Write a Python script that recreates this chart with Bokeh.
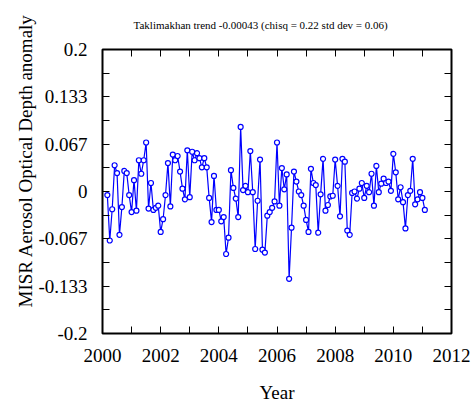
from bokeh.embed import file_html
from bokeh.models import (CustomLabelingPolicy, FixedTicker, Label, LinearAxis,
                          Range1d, Title)
from bokeh.plotting import figure
from bokeh.resources import INLINE

# Monthly MISR aerosol optical depth anomaly over the Taklimakhan, starting March 2000
first_year = 2000
first_month = 3
anomaly = [
    -0.005, -0.069, -0.025, 0.037, 0.026, -0.061, -0.022, 0.029, 0.026, -0.005,
    -0.029, 0.016, -0.027, 0.044, 0.025, 0.044, 0.069, -0.024, 0.012, -0.026,
    -0.023, -0.020, -0.057, -0.039, -0.005, 0.040, -0.021, 0.052, 0.044, 0.050,
    0.028, 0.004, -0.011, 0.058, -0.008, 0.056, 0.044, 0.054, 0.047, 0.034,
    0.047, 0.034, -0.009, -0.043, 0.022, -0.026, -0.026, -0.042, -0.036, -0.088,
    -0.065, 0.030, 0.005, -0.010, -0.036, 0.091, 0.002, 0.008, -0.001, 0.057,
    -0.001, -0.081, -0.013, 0.045, -0.082, -0.086, -0.034, -0.029, -0.023, -0.014,
    0.069, -0.020, 0.033, 0.003, 0.024, -0.123, -0.051, 0.028, 0.014, 0.000,
    -0.005, -0.020, -0.040, -0.057, 0.032, 0.012, 0.009, -0.058, -0.004, 0.046,
    -0.027, -0.019, -0.007, -0.006, 0.045, 0.008, -0.035, 0.046, 0.042, -0.055,
    -0.061, -0.002, 0.000, -0.010, 0.004, 0.012, -0.009, 0.008, -0.001, 0.025,
    -0.020, 0.036, -0.001, 0.011, 0.018, 0.012, 0.014, 0.001, 0.053, 0.027,
    -0.011, 0.006, -0.015, -0.052, -0.005, 0.001, 0.046, -0.018, -0.011, -0.001,
    -0.009, -0.026,
]
# decimal year of each monthly sample
years = [first_year + (first_month - 1 + i) / 12.0 for i in range(len(anomaly))]

x_major = [2000, 2002, 2004, 2006, 2008, 2010, 2012]
x_minor = [2001, 2003, 2005, 2007, 2009, 2011]
y_major = [-0.2, -0.4 / 3, -0.2 / 3, 0.0, 0.2 / 3, 0.4 / 3, 0.2]
y_major_labels = ["-0.2", "-0.133", "-0.067", "0", "0.067", "0.133", "0.2"]
y_minor = [-0.5 / 3, -0.1, -0.1 / 3, 0.1 / 3, 0.1, 0.5 / 3]

title_text = "Taklimakhan trend -0.00043 (chisq = 0.22 std dev = 0.06)"
y_title = "MISR Aerosol Optical Depth anomaly"
x_title = "Year"

SERIF = "Liberation Serif"

p = figure(
    width=471, height=405,
    x_range=Range1d(2000, 2012), y_range=Range1d(-0.2, 0.2),
    output_backend="svg", toolbar_location=None,
    min_border_left=102, min_border_right=20,
    min_border_top=49, min_border_bottom=71,
)
p.xgrid.visible = False
p.ygrid.visible = False
p.background_fill_color = "white"
p.border_fill_color = "white"
p.outline_line_color = "black"
p.outline_line_width = 2

x_ticker = FixedTicker(ticks=x_major, minor_ticks=x_minor)
y_ticker = FixedTicker(ticks=y_major, minor_ticks=y_minor)

# mirrored axes carry tick marks only
no_labels = CustomLabelingPolicy(code="""
    const ids = Array.from(indices)
    for (const i of ids) indices.unset(i)
    return indices
""")


def style_axis(ax, show_labels):
    ax.axis_line_color = None
    ax.major_tick_in = 7
    ax.major_tick_out = 0
    ax.minor_tick_in = 7
    ax.minor_tick_out = 0
    ax.major_tick_line_color = "black"
    ax.minor_tick_line_color = "black"
    ax.major_tick_line_width = 1
    ax.minor_tick_line_width = 1
    ax.major_label_text_font = SERIF
    ax.major_label_text_color = "black"
    if show_labels:
        ax.major_label_text_font_size = "19px"
    else:
        ax.major_label_text_font_size = "1px"
        ax.major_label_policy = no_labels
        ax.major_label_standoff = 0


xa = p.xaxis[0]
xa.ticker = x_ticker
style_axis(xa, True)
xa.major_label_standoff = 15
xa.axis_label = x_title
xa.axis_label_text_font = SERIF
xa.axis_label_text_font_size = "19px"
xa.axis_label_text_font_style = "normal"
xa.axis_label_text_color = "black"
xa.axis_label_standoff = 17

ya = p.yaxis[0]
ya.ticker = y_ticker
style_axis(ya, True)
ya.major_label_standoff = 15
ya.major_label_overrides = dict(zip(y_major, y_major_labels))

right_axis = LinearAxis(ticker=y_ticker)
style_axis(right_axis, False)
p.add_layout(right_axis, "right")

top_axis = LinearAxis(ticker=x_ticker)
style_axis(top_axis, False)
p.add_layout(top_axis, "above")

# the series: thin blue line with open circles
p.line(years, anomaly, line_color="#0000ff", line_width=1.2)
p.scatter(years, anomaly, marker="circle", size=5, line_color="#0000ff",
          line_width=1.2, fill_color="white")

# chart title, set small above the frame
p.add_layout(Title(
    text=title_text, align="left", offset=31, standoff=29,
    text_font=SERIF, text_font_size="11px", text_font_style="normal",
    text_color="black",
), "above")

# vertical y-axis title, read from bottom to top
p.add_layout(Title(
    text=y_title, align="left", offset=26, standoff=0,
    text_font=SERIF, text_font_size="19px", text_font_style="normal",
    text_color="black",
), "left")

p.add_layout(Label(
    x=-96, y=-29, x_units="screen", y_units="screen", text="2",
    text_align="right", text_baseline="alphabetic",
    text_font=SERIF, text_font_size="19px", text_color="black",
))

open("out.html", "w").write(file_html(p, INLINE))
